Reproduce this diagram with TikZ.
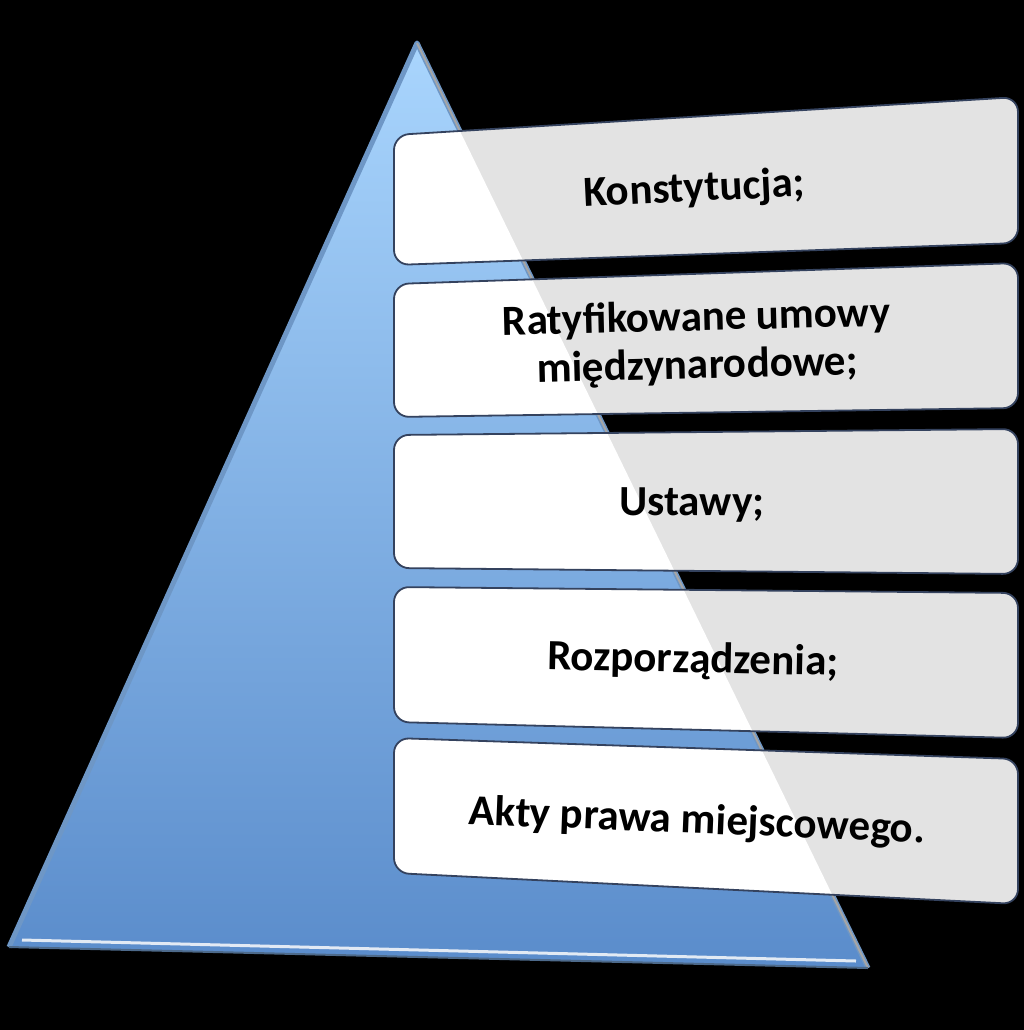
\documentclass[tikz,border=0pt]{standalone}
\usepackage{fontspec}
\setmainfont{Carlito}
\definecolor{tritop}{HTML}{A9D5FD}
\definecolor{trimid}{HTML}{86B5EA}
\definecolor{tribot}{HTML}{5A8CCB}
\definecolor{bevel}{HTML}{6E97C6}
\definecolor{boxgray}{HTML}{E3E3E3}
\definecolor{boxedge}{HTML}{34425E}
\begin{document}
\begin{tikzpicture}
  [x=0.5pt,y=-0.5pt,every node/.style={font=\bfseries\fontsize{21.5}{24}\selectfont,align=center,inner sep=0pt}]
  \tikzstyle{boxline} = [draw=boxedge,line width=0.9pt,rounded corners=7.5pt]
  \tikzstyle{boxfill} = [rounded corners=7.5pt]
  % background
  \fill[black] (0,0) rectangle (1024,1030);
  \coordinate (apex) at (417,43);
  \coordinate (bl) at (9,947);
  \coordinate (br) at (868,968);
  % pyramid
  \shade[top color=tritop,middle color=trimid,bottom color=tribot] (apex) -- (br) -- (bl) -- cycle;
  \draw[bevel,line width=2.5pt,line join=round] (br) -- (apex) -- (bl);
  \draw[gray!70,line width=1pt] (apex) -- (br);
  \draw[white!80!bevel,line width=1.5pt] (22,940) -- (856,961);
  \draw[bevel!70!black,line width=1pt] (bl) -- (br);
  % levels
  \foreach \a/\b/\c/\d in {135/97/243/265,284/263/408/417,435/429/574/568,587/593/738/722,738/759/904/873} {
    \fill[boxgray,boxfill] (394,\a) -- (1018,\b) -- (1018,\c) -- (394,\d) -- cycle;
    \begin{scope}
      \clip (apex) -- (br) -- (bl) -- cycle;
      \fill[white,boxfill] (394,\a) -- (1018,\b) -- (1018,\c) -- (394,\d) -- cycle;
    \end{scope}
    \draw[boxline] (394,\a) -- (1018,\b) -- (1018,\c) -- (394,\d) -- cycle;
  }
  \node[rotate=2.8] (t1) at (694,190) {Konstytucja;};
  \node[rotate=1.4] (t2) at (697,343) {Ratyfikowane umowy\\międzynarodowe;};
  \node[rotate=-0.4] (t3) at (692,505) {Ustawy;};
  \node[rotate=-1.2] (t4) at (693,661) {Rozporządzenia;};
  \node[rotate=-2.3] (t5) at (697,822) {Akty prawa miejscowego.};
\end{tikzpicture}
\end{document}
